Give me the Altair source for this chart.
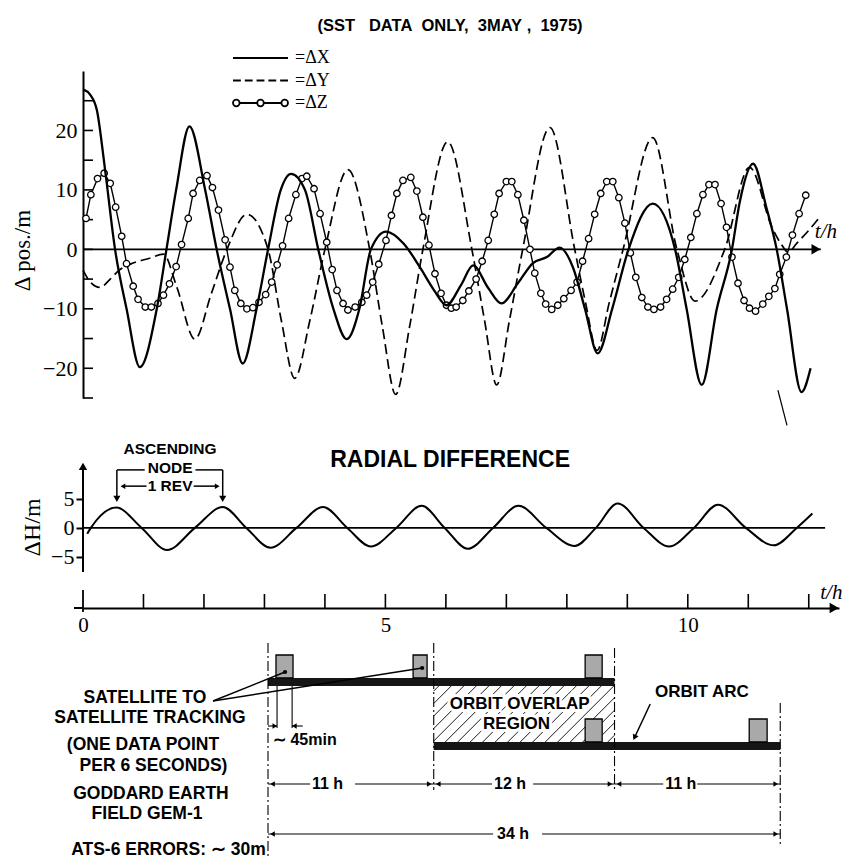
import altair as alt
import numpy as np
import pandas as pd

NB = "\u00a0"
TITLE = f"(SST{NB}{NB}{NB}DATA{NB}{NB}ONLY,{NB}{NB}3MAY{NB},{NB}{NB}1975)"
SERIES = ["ΔX", "ΔY", "ΔZ"]

# ---- series: (t in h, value in m) ----
DX_PTS = [(0.00, 26.9), (0.12, 26.0), (0.23, 23.4), (0.36, 13.8), (0.53, 0.0), (0.72, -10.0),
          (0.94, -19.8), (1.22, -10.0), (1.38, 0.0), (1.54, 10.0), (1.76, 20.7), (2.02, 10.0),
          (2.21, 0.0), (2.43, -10.0), (2.64, -19.2), (2.87, -10.0), (3.06, 0.0), (3.27, 10.0),
          (3.44, 12.7), (3.67, 10.0), (3.89, 0.0), (4.14, -10.0), (4.36, -15.1), (4.57, -10.0),
          (4.76, 0.0), (5.01, 3.0), (5.30, 1.0), (5.57, -3.0), (5.80, -6.8), (6.01, -9.4),
          (6.25, -6.0), (6.45, -2.7), (6.70, -6.5), (6.92, -9.1), (7.19, -5.7), (7.44, -2.3),
          (7.67, -1.3), (7.88, 0.3), (8.10, -3.0), (8.30, -10.0), (8.51, -17.5), (8.75, -10.0),
          (9.02, 0.0), (9.42, 7.7), (9.79, 0.0), (9.98, -10.0), (10.23, -22.8), (10.48, -10.0),
          (10.73, 0.0), (10.86, 8.0), (11.08, 14.4), (11.30, 7.0), (11.47, 0.0), (11.64, -10.0),
          (11.88, -24.0), (12.03, -20.0)]

DY_PTS = [(0.00, -3.5), (0.12, -5.5), (0.28, -6.4), (0.45, -5.0), (0.60, -3.5), (0.83, -2.3),
          (1.10, -1.5), (1.33, -0.8), (1.55, -6.3), (1.85, -15.1), (2.12, -7.5), (2.38, 0.0),
          (2.71, 5.9), (3.06, 0.0), (3.28, -12.0), (3.50, -21.7), (3.75, -12.0), (4.00, 0.0),
          (4.38, 13.4), (4.74, 0.0), (4.95, -13.0), (5.17, -24.4), (5.40, -13.0), (5.62, 0.0),
          (6.03, 18.1), (6.43, 0.0), (6.64, -12.0), (6.84, -22.8), (7.05, -12.0), (7.27, 0.0),
          (7.72, 20.5), (8.13, 0.0), (8.31, -9.0), (8.50, -17.0), (8.70, -9.0), (8.93, 0.0),
          (9.42, 18.8), (9.82, 0.0), (10.12, -8.7), (10.61, 0.0), (11.02, 13.8), (11.40, 3.5),
          (11.55, 0.8), (11.66, -0.5), (11.80, 1.0), (12.00, 3.2), (12.18, 5.4)]

DZ_PTS = [(0.05, 5.2), (0.13, 9.2), (0.24, 11.9), (0.35, 12.8), (0.45, 11.1), (0.54, 7.1),
          (0.64, 2.2), (0.72, -2.4), (0.83, -6.2), (0.91, -8.4), (1.03, -9.7), (1.13, -9.7),
          (1.24, -9.1), (1.33, -7.7), (1.43, -5.8), (1.54, -2.9), (1.63, 0.8), (1.74, 5.2),
          (1.82, 9.4), (1.93, 11.6), (2.05, 12.4), (2.14, 10.4), (2.24, 6.6), (2.35, 1.6),
          (2.43, -3.0), (2.51, -6.9), (2.61, -9.1), (2.71, -10.0), (2.81, -9.8), (2.91, -8.9),
          (3.02, -7.6), (3.12, -5.5), (3.21, -2.6), (3.30, 0.6), (3.40, 5.2), (3.52, 9.2),
          (3.62, 11.9), (3.70, 12.3), (3.82, 10.2), (3.92, 6.0), (4.03, 1.2), (4.12, -3.4),
          (4.20, -6.9), (4.30, -9.1), (4.38, -10.2), (4.50, -9.7), (4.61, -8.9), (4.69, -7.7),
          (4.79, -5.5), (4.89, -2.5), (5.01, 1.5), (5.10, 5.7), (5.19, 9.4), (5.29, 11.6),
          (5.42, 12.1), (5.52, 9.8), (5.62, 5.4), (5.72, 0.7), (5.82, -4.1), (5.92, -7.4),
          (6.01, -9.4), (6.09, -9.9), (6.17, -9.7), (6.28, -8.6), (6.38, -7.0), (6.50, -5.0),
          (6.60, -2.0), (6.70, 1.5), (6.80, 5.9), (6.88, 9.4), (7.00, 11.4), (7.09, 11.4),
          (7.19, 9.2), (7.29, 4.9), (7.39, 0.0), (7.47, -4.0), (7.57, -7.4), (7.65, -9.2),
          (7.75, -10.1), (7.85, -9.4), (7.95, -8.3), (8.07, -6.9), (8.17, -5.5), (8.26, -2.0),
          (8.36, 1.8), (8.46, 5.9), (8.56, 9.4), (8.66, 11.4), (8.76, 11.4), (8.86, 8.7),
          (8.96, 4.4), (9.05, -0.6), (9.14, -4.7), (9.24, -8.1), (9.34, -9.7), (9.44, -10.1),
          (9.55, -9.7), (9.65, -8.4), (9.75, -6.7), (9.85, -4.7), (9.95, -1.7), (10.05, 2.0),
          (10.15, 6.0), (10.25, 9.2), (10.35, 10.9), (10.45, 10.9), (10.55, 7.7), (10.64, 3.7),
          (10.73, -1.3), (10.83, -5.7), (10.93, -8.6), (11.02, -9.9), (11.12, -10.4), (11.24, -9.2),
          (11.34, -7.9), (11.44, -6.6), (11.52, -4.2), (11.63, -1.3), (11.73, 2.4), (11.84, 6.0),
          (11.95, 9.1)]

DH_PTS = [(0.07, -1.0), (0.13, 0.0), (0.55, 3.5), (0.97, 0.0), (1.39, -3.8), (1.85, 0.0),
          (2.31, 3.6), (2.70, 0.0), (3.10, -3.4), (3.53, 0.0), (3.97, 3.6), (4.37, 0.0),
          (4.76, -3.2), (5.18, 0.0), (5.60, 3.8), (5.98, 0.0), (6.36, -3.6), (6.78, 0.0),
          (7.20, 3.8), (7.66, 0.0), (8.13, -3.1), (8.48, 0.0), (8.84, 4.2), (9.27, 0.0),
          (9.69, -3.2), (10.10, 0.0), (10.50, 4.0), (10.96, 0.0), (11.42, -3.0), (11.80, 0.0),
          (12.06, 2.5)]

POS_TICKS = [-25, -20, -15, -10, -5, 0, 5, 10, 15, 20, 25]
POS_LABELS = [-20, -10, 0, 10, 20]
DH_LABELS = [-5, 0, 5]
HOUR_TICKS = list(range(1, 13))
HOUR_LABELS = [0, 5, 10]
NODE_T = [0.56, 2.31]  # ascending node passages (h)

# ---- orbit scheme (hours of the 34 h span) ----
ARC_START = [0, 11]
ARC_END = [23, 34]
OVERLAP = [11, 23]
EDGES = [0, 11, 23, 34]
SEG_TEXT = ["11 h", "12 h", "11 h"]
TOTAL_TEXT = "34 h"
SST_START = [0.53, 9.63, 21.05, 21.05, 31.94]
SST_END = [1.66, 10.56, 22.18, 22.18, 33.13]
LEFT_TEXT = ["SATELLITE TO", "SATELLITE TRACKING", "(ONE DATA POINT", "PER 6 SECONDS)",
             "GODDARD EARTH", "FIELD GEM-1"]
ATS_TEXT = "ATS-6 ERRORS: \u223c 30m"


def pts_df(pts, name=None):
    d = pd.DataFrame({"t": [p[0] for p in pts], "v": [p[1] for p in pts]})
    if name is not None:
        d["series"] = name
    return d


dx = pts_df(DX_PTS, "ΔX")
dy = pts_df(DY_PTS, "ΔY")
dz = pts_df(DZ_PTS, "ΔZ")
allpos = pd.concat([dx, dy, dz], ignore_index=True)
dh = pts_df(DH_PTS)

# ---- layout / style ----
W = 756
H1, H2, H3, H4 = 327, 152, 14, 231
SERIF = "Liberation Serif"
SANS = "Liberation Sans"
K = "black"

tscale = alt.Scale(domain=[0, 12.5], nice=False, zero=False)
X = alt.X("t:Q", scale=tscale, axis=None)
X2 = alt.X2("t2:Q")


def heads(df, shape, xe, ye, size=45, angle=None):
    kw = dict(shape=shape, size=size, filled=True, color=K, opacity=1)
    if angle:
        kw["angle"] = angle
    return alt.Chart(df).mark_point(**kw).encode(x=xe, y=ye)


# =============== panel 1: position differences ===============
Y1 = alt.Y("v:Q", scale=alt.Scale(domain=[-25, 30], nice=False, zero=False),
           axis=alt.Axis(values=POS_LABELS, ticks=False, tickSize=0, domainColor=K, domainWidth=2,
                         labelFont=SERIF, labelFontSize=22, labelColor=K, labelPadding=6,
                         labelFlush=False, grid=False, title="Δ pos./m", titleFont=SERIF,
                         titleFontSize=23, titleFontWeight="normal", titleColor=K,
                         titlePadding=8, titleY=179))
Y1b = alt.Y2("v2:Q")

SHAPES = [
    "M-1,0L1,0",
    "M-1,0L-0.714,0M-0.571,0L-0.286,0M-0.143,0L0.143,0M0.286,0L0.571,0M0.714,0L1,0",
    "M-1,0a0.12,0.12 0 1,0 0.24,0a0.12,0.12 0 1,0 -0.24,0M-0.76,0L-0.12,0"
    "M-0.12,0a0.12,0.12 0 1,0 0.24,0a0.12,0.12 0 1,0 -0.24,0M0.12,0L0.76,0"
    "M0.76,0a0.12,0.12 0 1,0 0.24,0a0.12,0.12 0 1,0 -0.24,0",
]

p1_title = alt.Chart(pd.DataFrame({"t": [6.07], "v": [37.6], "txt": [TITLE]})).mark_text(
    font=SANS, fontWeight="bold", fontSize=16.5, color=K, baseline="middle").encode(
    x=X, y=Y1, text="txt:N")
p1_ticks = alt.Chart(pd.DataFrame({"v": POS_TICKS})).mark_rule(color=K, strokeWidth=1.6).encode(
    y=Y1, x=alt.value(0), x2=alt.value(10))
p1_zero = alt.Chart(pd.DataFrame({"t": [0.0], "t2": [12.2], "v": [0.0]})).mark_rule(
    color=K, strokeWidth=1.6).encode(x=X, x2=X2, y=Y1)
p1_arrow = heads(pd.DataFrame({"t": [12.12], "v": [0.0]}), "triangle-right", X, Y1, size=110)
p1_th = alt.Chart(pd.DataFrame({"t": [12.1], "v": [3.0], "txt": ["t/h"]})).mark_text(
    align="left", baseline="middle", font=SERIF, fontSize=21, fontStyle="italic", color=K).encode(
    x=X, y=Y1, text="txt:N")
p1_mark = alt.Chart(pd.DataFrame({"t": [11.49], "t2": [11.64], "v": [-23.7], "v2": [-29.6]})).mark_rule(
    color=K, strokeWidth=1.2).encode(x=X, x2=X2, y=Y1, y2=Y1b)
p1_dy = alt.Chart(dy).mark_line(color=K, strokeWidth=1.7, strokeDash=[10, 5],
                                interpolate="monotone").encode(x=X, y=Y1)
p1_dzl = alt.Chart(dz).mark_line(color=K, strokeWidth=1.4).encode(x=X, y=Y1)
p1_dzp = alt.Chart(dz).mark_point(shape="circle", size=42, filled=True, fill="white", stroke=K,
                                  strokeWidth=1.3, opacity=1).encode(x=X, y=Y1)
p1_dx = alt.Chart(dx).mark_line(color=K, strokeWidth=2.3, interpolate="monotone").encode(x=X, y=Y1)
p1_leg = alt.Chart(allpos).mark_point(opacity=0, color=K, filled=False).encode(
    x=X, y=Y1,
    shape=alt.Shape("series:N", scale=alt.Scale(domain=SERIES, range=SHAPES),
                    legend=alt.Legend(title=None, orient="none", legendX=149, legendY=-24,
                                      symbolSize=3025, symbolStrokeWidth=1.8,
                                      symbolStrokeColor=K, symbolFillColor="transparent",
                                      symbolOpacity=1, clipHeight=22, rowPadding=0.5,
                                      labelOffset=6, labelFont=SERIF, labelFontSize=18,
                                      labelColor=K, labelExpr="'=' + datum.label", padding=0)))
p1_anchor = alt.Chart(pd.DataFrame({"d": [0]})).mark_rule(opacity=0, strokeWidth=1).encode(
    x=alt.value(-82.5), x2=alt.value(-81.5), y=alt.value(-70.5))

p1 = alt.layer(p1_ticks, p1_zero, p1_dy, p1_dzl, p1_dzp, p1_dx, p1_arrow, p1_th, p1_mark,
               p1_title, p1_leg, p1_anchor).properties(width=W, height=H1)

# =============== panel 2: radial difference ===============
Y2 = alt.Y("v:Q", scale=alt.Scale(domain=[-7.6, 18.6], nice=False, zero=False),
           axis=alt.Axis(values=DH_LABELS, domain=False, tickSize=7, tickWidth=2, tickColor=K,
                         labelFont=SERIF, labelFontSize=22, labelColor=K,
                         labelPadding=2, labelFlush=False, grid=False, title="ΔH/m",
                         titleFont=SERIF, titleFontSize=24, titleFontWeight="normal",
                         titleColor=K, titlePadding=6, titleY=107))
Y2b = alt.Y2("v2:Q")

p2_axis = alt.Chart(pd.DataFrame({"t": [0.0], "v": [-7.6], "v2": [11.0]})).mark_rule(
    color=K, strokeWidth=2).encode(x=X, y=Y2, y2=Y2b)
p2_zero = alt.Chart(pd.DataFrame({"t": [0.0], "t2": [12.27], "v": [0.0]})).mark_rule(
    color=K, strokeWidth=1.6).encode(x=X, x2=X2, y=Y2)
p2_curve = alt.Chart(dh).mark_line(color=K, strokeWidth=2, interpolate="monotone").encode(x=X, y=Y2)
p2_axarrow = heads(pd.DataFrame({"t": [0.0], "v": [10.6]}), "triangle-up", X, Y2, size=70)
br = pd.DataFrame({
    "t": [NODE_T[0], NODE_T[1], NODE_T[0], 1.86, 0.68, 1.83],
    "t2": [NODE_T[0], NODE_T[1], 1.02, NODE_T[1], 1.05, 2.20],
    "v": [10.0, 10.0, 10.0, 10.0, 7.2, 7.2],
    "v2": [5.3, 5.3, 10.0, 10.0, 7.2, 7.2]})
p2_br = alt.Chart(br).mark_rule(color=K, strokeWidth=1.5).encode(x=X, x2=X2, y=Y2, y2=Y2b)
p2_hd = heads(pd.DataFrame({"t": NODE_T, "v": [5.0, 5.0]}), "triangle-down", X, Y2, size=50)
p2_hl = heads(pd.DataFrame({"t": [0.66], "v": [7.2]}), "triangle-left", X, Y2, size=30)
p2_hr = heads(pd.DataFrame({"t": [2.22], "v": [7.2]}), "triangle-right", X, Y2, size=30)
p2_txt = alt.Chart(pd.DataFrame({"t": [1.44, 1.44, 1.44], "v": [13.6, 10.25, 7.2],
                                 "txt": ["ASCENDING", "NODE", "1 REV"]})).mark_text(
    font=SANS, fontWeight="bold", fontSize=15.5, color=K, baseline="middle").encode(
    x=X, y=Y2, text="txt:N")
p2_title = alt.Chart(pd.DataFrame({"t": [6.07], "v": [11.7], "txt": ["RADIAL DIFFERENCE"]})).mark_text(
    font=SANS, fontWeight="bold", fontSize=23, color=K, baseline="middle").encode(
    x=X, y=Y2, text="txt:N")

p2 = alt.layer(p2_axis, p2_zero, p2_curve, p2_axarrow, p2_br, p2_hd, p2_hl, p2_hr, p2_txt,
               p2_title).properties(width=W, height=H2)

# =============== panel 3: time axis ===============
X3 = alt.X("t:Q", scale=tscale,
           axis=alt.Axis(values=HOUR_LABELS, ticks=False, tickSize=0, domainColor=K,
                         domainWidth=2, labelFont=SERIF, labelFontSize=21, labelColor=K,
                         labelPadding=6, labelFlush=False, title=None, grid=False))
p3_ticks = alt.Chart(pd.DataFrame({"t": HOUR_TICKS})).mark_rule(color=K, strokeWidth=1.6).encode(
    x=X3, y=alt.value(0), y2=alt.value(H3))
p3_tick0 = alt.Chart(pd.DataFrame({"t": [0]})).mark_rule(color=K, strokeWidth=1.8).encode(
    x=X3, y=alt.value(-4), y2=alt.value(H3 + 4))
p3_lead = alt.Chart(pd.DataFrame({"d": [0]})).mark_rule(color=K, strokeWidth=2).encode(
    x=alt.value(-9), x2=alt.value(0), y=alt.value(H3))
p3_arrow = alt.Chart(pd.DataFrame({"t": [12.42]})).mark_point(
    shape="triangle-right", size=110, filled=True, color=K, opacity=1).encode(x=X3, y=alt.value(H3))
p3_th = alt.Chart(pd.DataFrame({"t": [12.19], "txt": ["t/h"]})).mark_text(
    align="left", baseline="middle", font=SERIF, fontSize=21, fontStyle="italic", color=K).encode(
    x=X3, y=alt.value(-1), text="txt:N")
p3 = alt.layer(p3_ticks, p3_tick0, p3_lead, p3_arrow, p3_th).properties(width=W, height=H3)

# =============== panel 4: orbit arc scheme ===============
HD = [-12.28, 37.9]
LVD = [0, 23.1]
XH = alt.X("h:Q", scale=alt.Scale(domain=HD, nice=False, zero=False), axis=None)
XH2 = alt.X2("h2:Q")
YL = alt.Y("lv:Q", scale=alt.Scale(domain=LVD, nice=False, zero=False, reverse=True), axis=None)
YL2 = alt.Y2("lv2:Q")
PXH = W / (HD[1] - HD[0])
PXL = H4 / (LVD[1] - LVD[0])

# hatch of the overlap region
ov_l0, ov_l1 = 5.6, 11.2
bw = (OVERLAP[1] - OVERLAP[0]) * PXH
bh = (ov_l1 - ov_l0) * PXL
hatch = []
for c in np.arange(-bh + 5, bw, 12.5):
    s_lo, s_hi = max(0.0, -c), min(bh, bw - c)
    if s_hi - s_lo < 1:
        continue
    hatch.append({"h": OVERLAP[0] + (c + s_lo) / PXH, "h2": OVERLAP[0] + (c + s_hi) / PXH,
                  "lv": ov_l1 - s_lo / PXL, "lv2": ov_l1 - s_hi / PXL})
p4_hatch = alt.Chart(pd.DataFrame(hatch)).mark_rule(color=K, strokeWidth=0.9).encode(
    x=XH, x2=XH2, y=YL, y2=YL2)

ov_txt = pd.DataFrame({"h": [16.7, 16.5], "lv": [7.4, 9.4], "txt": ["ORBIT OVERLAP", "REGION"]})
p4_ovhalo = alt.Chart(ov_txt).mark_text(font=SANS, fontWeight="bold", fontSize=17, color="white",
                                        stroke="white", strokeWidth=6, baseline="middle").encode(
    x=XH, y=YL, text="txt:N")
p4_ovtxt = alt.Chart(ov_txt).mark_text(font=SANS, fontWeight="bold", fontSize=17, color=K,
                                       baseline="middle").encode(x=XH, y=YL, text="txt:N")

arcs = pd.DataFrame({"h": ARC_START, "h2": ARC_END, "lv": [4.8, 11.2], "lv2": [5.6, 12.0]})
p4_arcs = alt.Chart(arcs).mark_rect(color="#161616").encode(x=XH, x2=XH2, y=YL, y2=YL2)

vl = pd.DataFrame({"h": EDGES, "lv": [1.3, 1.3, 1.8, 7.3], "lv2": [22.8, 16.0, 16.0, 21.5]})
p4_vl = alt.Chart(vl).mark_rule(color=K, strokeWidth=1.1, strokeDash=[10, 3, 2, 3]).encode(
    x=XH, y=YL, y2=YL2)

sst = pd.DataFrame({"h": SST_START, "h2": SST_END, "lv": [2.5, 2.5, 2.5, 8.9, 8.9],
                    "lv2": [4.8, 4.8, 4.8, 11.2, 11.2]})
p4_sst = alt.Chart(sst).mark_rect(fill="#a9a9a9", stroke=K, strokeWidth=1.3).encode(
    x=XH, x2=XH2, y=YL, y2=YL2)

lead = pd.DataFrame({"h": [-3.65, -3.65], "h2": [1.13, 10.23], "lv": [7.1, 7.1], "lv2": [4.2, 3.8]})
p4_lead = alt.Chart(lead).mark_rule(color=K, strokeWidth=1.4).encode(x=XH, x2=XH2, y=YL, y2=YL2)
p4_dots = alt.Chart(pd.DataFrame({"h": [1.13, 10.23], "lv": [4.2, 3.8]})).mark_point(
    shape="circle", size=18, filled=True, color=K, opacity=1).encode(x=XH, y=YL)

br45 = pd.DataFrame({"h": [0.6, 1.6, 0.0, 1.6], "h2": [0.6, 1.6, 0.6, 2.3],
                     "lv": [5.6, 5.6, 9.6, 9.6], "lv2": [9.8, 9.8, 9.6, 9.6]})
p4_br45 = alt.Chart(br45).mark_rule(color=K, strokeWidth=1.1).encode(x=XH, x2=XH2, y=YL, y2=YL2)
p4_h45r = heads(pd.DataFrame({"h": [0.45], "lv": [9.6]}), "triangle-right", XH, YL, size=28)
p4_h45l = heads(pd.DataFrame({"h": [1.75], "lv": [9.6]}), "triangle-left", XH, YL, size=28)
p4_t45 = alt.Chart(pd.DataFrame({"h": [0.33], "lv": [11.0], "txt": ["\u223c 45min"]})).mark_text(
    font=SANS, fontWeight="bold", fontSize=16, color=K, align="left", baseline="middle").encode(
    x=XH, y=YL, text="txt:N")

dims = pd.DataFrame({
    "h": [0, 5.78, 11, 17.6, 23, 28.49, 0, 18.19],
    "h2": [2.79, 11, 14.87, 23, 26.23, 34, 14.94, 34],
    "lv": [15.4] * 6 + [20.4] * 2})
dims["lv2"] = dims["lv"]
p4_dims = alt.Chart(dims).mark_rule(color=K, strokeWidth=1.1).encode(x=XH, x2=XH2, y=YL, y2=YL2)
p4_dl = heads(pd.DataFrame({"h": [0.3, 11.3, 23.3, 0.3], "lv": [15.4, 15.4, 15.4, 20.4]}),
              "triangle-left", XH, YL, size=28)
p4_dr = heads(pd.DataFrame({"h": [10.7, 22.7, 33.7, 33.7], "lv": [15.4, 15.4, 15.4, 20.4]}),
              "triangle-right", XH, YL, size=28)
dim_txt = pd.DataFrame({"h": [2.92, 15.0, 26.36, 15.2], "lv": [15.4, 15.4, 15.4, 20.4],
                        "txt": SEG_TEXT + [TOTAL_TEXT]})
p4_dtxt = alt.Chart(dim_txt).mark_text(font=SANS, fontWeight="bold", fontSize=16, color=K,
                                       align="left", baseline="middle").encode(
    x=XH, y=YL, text="txt:N")

left_txt = pd.DataFrame({"h": [-8.17, -7.84, -8.30, -7.60, -7.77, -8.03],
                         "lv": [6.8, 8.8, 11.5, 13.6, 16.4, 18.4], "txt": LEFT_TEXT})
p4_left = alt.Chart(left_txt).mark_text(font=SANS, fontWeight="bold", fontSize=17.5, color=K,
                                        baseline="middle").encode(x=XH, y=YL, text="txt:N")
p4_ats = alt.Chart(pd.DataFrame({"h": [-0.15], "lv": [22.0], "txt": [ATS_TEXT]})).mark_text(
    font=SANS, fontWeight="bold", fontSize=17.5, color=K, align="right", baseline="middle").encode(
    x=XH, y=YL, text="txt:N")

p4_arc_txt = alt.Chart(pd.DataFrame({"h": [28.8], "lv": [6.2], "txt": ["ORBIT ARC"]})).mark_text(
    font=SANS, fontWeight="bold", fontSize=17, color=K, baseline="middle").encode(
    x=XH, y=YL, text="txt:N")
p4_arc_ptr = alt.Chart(pd.DataFrame({"h": [25.37], "h2": [24.3], "lv": [7.4], "lv2": [10.85]})).mark_rule(
    color=K, strokeWidth=1.5).encode(x=XH, x2=XH2, y=YL, y2=YL2)
p4_arc_head = heads(pd.DataFrame({"h": [24.33], "lv": [10.75]}), "triangle-up", XH, YL, size=40,
                    angle=205)

p4 = alt.layer(p4_hatch, p4_ovhalo, p4_ovtxt, p4_arcs, p4_vl, p4_sst, p4_lead, p4_dots, p4_br45,
               p4_h45r, p4_h45l, p4_t45, p4_dims, p4_dl, p4_dr, p4_dtxt, p4_left, p4_ats,
               p4_arc_txt, p4_arc_ptr, p4_arc_head).properties(width=W, height=H4)

chart = alt.vconcat(p1, p2, p3, p4, spacing=22, bounds="flush").properties(
    padding={"left": 0, "top": 0, "right": 0, "bottom": 0},
    background="white",
).configure_view(strokeWidth=0)

chart.save("out.html", embed_options={"renderer": "svg", "actions": False})
